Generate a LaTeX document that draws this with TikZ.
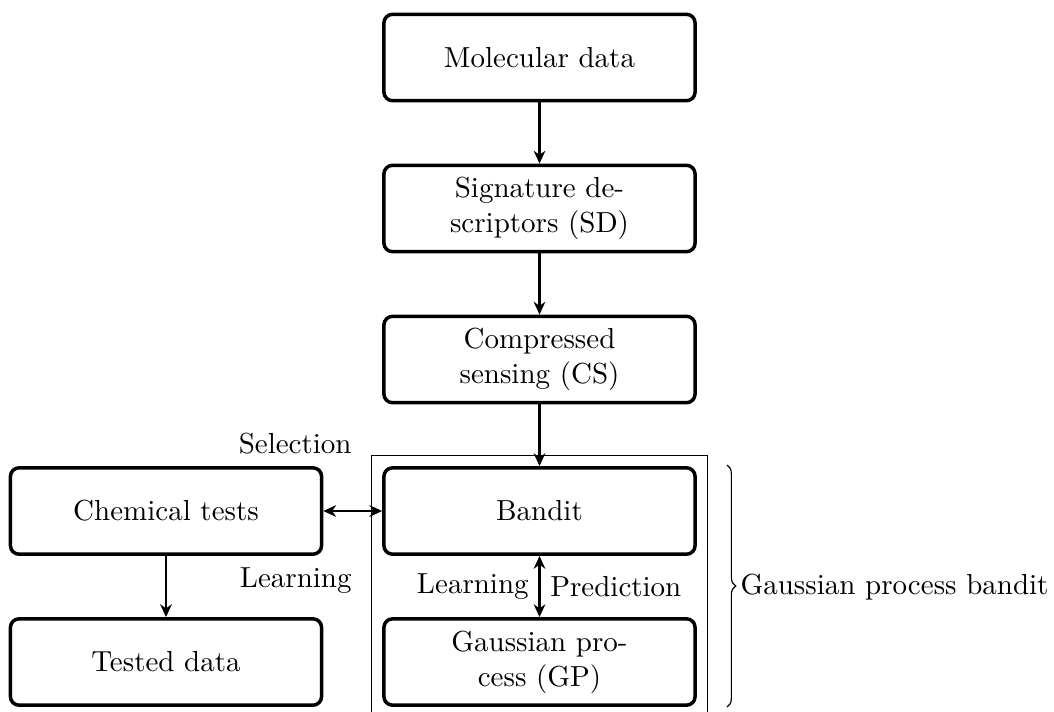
\documentclass[tikz,border=0pt]{standalone}
\usetikzlibrary{fit,arrows.meta,decorations.pathreplacing}
\begin{document}
\begin{tikzpicture}[x=0.3448pt,y=-0.3448pt,
  box/.style={draw,very thick,rounded corners=3pt,minimum width=107.3pt,minimum height=29.8pt,align=center},
  tip/.tip={Stealth[length=4.4pt,width=4pt,inset=1.4pt]},
  arr/.style={-tip,thick},
  arrs/.style={tip-tip,thick},
  lbl/.style={inner sep=0pt}]
\useasboundingbox (0,0) rectangle (1054,711);
\node[box] (mol) at (539.5,57.5) {Molecular data};
\node[box] (sig) at (539.5,208.5) {Signature de-\\scriptors (SD)};
\node[box] (cs) at (539.5,359.5) {Compressed\\sensing (CS)};
\node[box] (ban) at (539.5,511) {Bandit};
\node[box] (gp) at (539.5,662) {Gaussian pro-\\cess (GP)};
\node[box] (chem) at (166,511) {Chemical tests};
\node[box] (test) at (166,662) {Tested data};
\node[draw,line width=0.4pt,fit=(ban)(gp),inner sep=3.6pt] (frame) {};
\draw[arr] (mol) -- (sig);
\draw[arr] (sig) -- (cs);
\draw[arr] (cs) -- (ban);
\draw[arr] (chem) -- (test);
\draw[arrs] (chem) -- node[lbl,anchor=base east,yshift=20pt] {Selection}
  node[lbl,anchor=base east,yshift=-26.2pt] {Learning} (ban);
\draw[arrs] (ban) -- node[left] {Learning} node[right] {Prediction} (gp);
\coordinate (bt) at (727,465);
\coordinate (bb) at (727,707);
\draw[line width=0.4pt,decorate,decoration={brace,amplitude=3pt}] (bt) -- (bb);
\node[anchor=base west,inner sep=0pt] (gpb) at (740,594) {Gaussian process bandit};
\end{tikzpicture}
\end{document}
